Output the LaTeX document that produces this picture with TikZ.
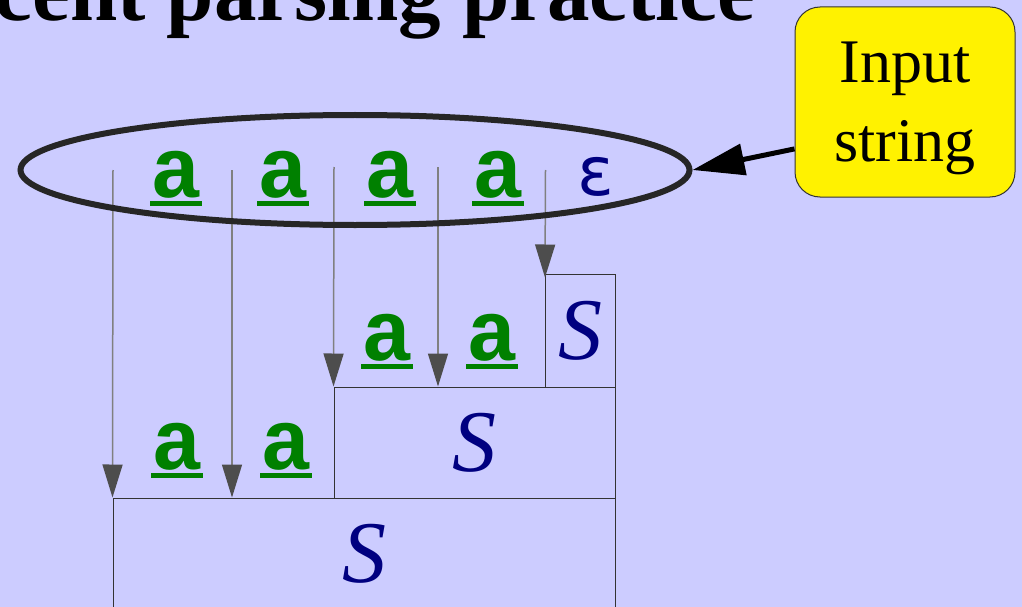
\documentclass[tikz,border=0pt]{standalone}
\usepackage{fontspec}
\setmainfont{Liberation Serif}
\newfontfamily\tokfont{Liberation Mono}
\newfontfamily\epsfont{DejaVu Sans}
\usetikzlibrary{arrows.meta, positioning, shapes.geometric}
\definecolor{sfondo}{RGB}{204,204,255}
\definecolor{termcol}{RGB}{0,128,0}
\definecolor{ntcol}{RGB}{0,0,128}
\definecolor{lineacol}{RGB}{128,128,128}
\definecolor{puntacol}{RGB}{77,77,77}
% terminale sottolineato
\newcommand{\term}{\rlap{\rule[-8.5pt]{52pt}{4.5pt}}a}
\tikzset{
	% simbolo terminale
	tok/.style={anchor=base, inner sep=0pt, text=termcol,
	            font=\tokfont\bfseries\fontsize{86}{86}\selectfont},
	% nodo dell'albero (S)
	albero/.style={draw=black!80, line width=1pt, inner sep=0pt,
	               text=ntcol, font=\itshape\fontsize{88}{88}\selectfont},
	% freccia di lettura
	leggi/.style={draw=lineacol, line width=1.5pt,
	              -{Triangle[length=33pt, width=20pt, color=puntacol]}},
	% nota gialla
	nota/.style={draw=black!80, line width=1pt, fill=yellow, rounded corners=25pt,
	             align=center, text depth=0pt, minimum width=220pt, minimum height=190pt,
	             font=\fontsize{62}{79}\selectfont},
}

\begin{document}
\begin{tikzpicture}[x=1pt, y=-1pt]
    \fill[sfondo] (0,0) rectangle (1022,607);
    \useasboundingbox (0,0) rectangle (1022,607);

    \node[anchor=base east, inner sep=0pt, font=\bfseries\fontsize{85}{85}\selectfont] (titolo) at (755,21) {Recent parsing practice};

    % albero
    \node[albero, minimum width=502pt, minimum height=112pt] (s3) at (364,554) {S};
    \node[albero, minimum width=281pt, minimum height=111pt] (s2) at (474.5,442.5) {S};
    \node[albero, minimum width=69.5pt, minimum height=113pt] (s1) at (580.25,330.5) {S};

    % stringa di ingresso
    \node[tok] (a1) at (176,197) {\term};
    \node[tok] (a2) at (283,197) {\term};
    \node[tok] (a3) at (390,197) {\term};
    \node[tok] (a4) at (498,197) {\term};
    \node[anchor=base, inner sep=0pt, text=ntcol, font=\epsfont\fontsize{68}{68}\selectfont] (eps) at (596,195) {ε};

    % terminali consumati
    \node[tok] (b1) at (387,360) {\term};
    \node[tok] (b2) at (492,360) {\term};
    \node[tok] (c1) at (177,469) {\term};
    \node[tok] (c2) at (286,469) {\term};

    % frecce di lettura
    \coordinate (t1) at (113,170);
    \coordinate (t2) at (232,170);
    \coordinate (t3) at (334,167);
    \coordinate (t4) at (438,167);
    \coordinate (t5) at (545.5,170);
    \draw[leggi] (t1) -- (s3.north west);
    \draw[leggi] (t2) -- (t2 |- s3.north);
    \draw[leggi] (t3) -- (s2.north west);
    \draw[leggi] (t4) -- (t4 |- s2.north);
    \draw[leggi] (t5) -- ([yshift=-4pt]s1.north west);

    \node[ellipse, draw=black!85, line width=6pt, minimum width=669pt, minimum height=110pt] (inp) at (355,170) {};

    % nota
    \node[nota] (lbl) at (905,102) {Input\\string};
    \draw[line width=5pt, -{Triangle[length=52pt, width=31pt]}] (lbl.203) -- (inp.east);
\end{tikzpicture}
\end{document}
